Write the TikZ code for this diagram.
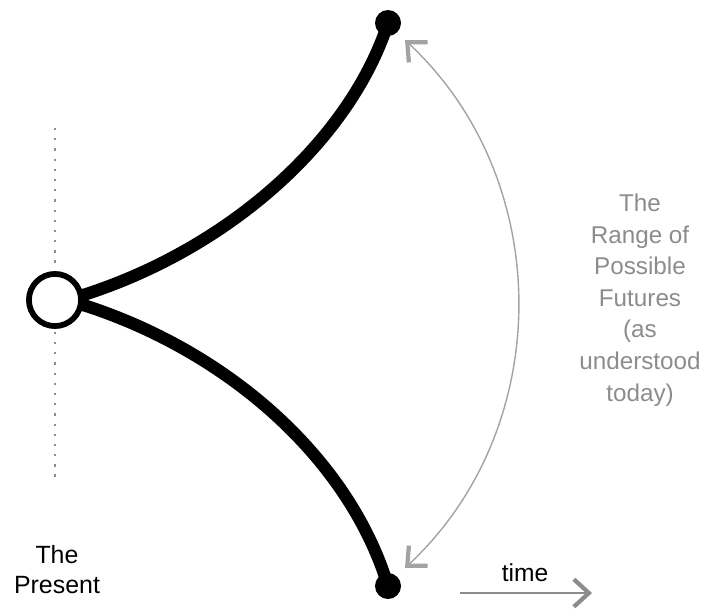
\documentclass[tikz,border=0pt]{standalone}
\usepackage{fontspec}
\setmainfont{Liberation Sans}
\usetikzlibrary{arrows.meta,positioning}
\definecolor{futuregray}{gray}{0.55}
\tikzset{
    path/.style={line width=7pt,line cap=round},
    endpoint/.style={circle,fill=black,inner sep=0pt,minimum size=0.52cm},
    ring/.style={circle,draw,line width=3.2pt,fill=white,minimum size=1.04cm},
    barb/.tip={Straight Barb[length=0.3cm,width=0.55cm,line width=2.4pt]}
}
\begin{document}
\begin{tikzpicture}[x=0.02cm,y=0.02cm]
        \useasboundingbox (0,0) rectangle (702,610);
        \draw[futuregray,line width=1.3pt,dash pattern=on 1.3pt off 4.5pt] (55,482) -- (55,132);
        \node[ring] (present) at (55,310) {};
        \node[endpoint] (top) at (388,587) {};
        \node[endpoint] (bottom) at (388,24) {};
        \draw[path] (present.10) .. controls (230,362) and (350,470) .. (top.center);
        \draw[path] (present.-10) .. controls (230,258) and (350,150) .. (bottom.center);
        \node[ring] at (present) {};
        \coordinate (high) at (405,570);
        \coordinate (low) at (405,42);
        \draw[futuregray!80,line width=0.8pt,barb-barb] (high) to[bend left=47] (low);
        \node[futuregray,align=center,font=\fontsize{13.8}{18}\selectfont] (range) at (640,310) {The\\Range of\\Possible\\Futures\\(as\\understood\\today)};
        \node[align=center,font=\fontsize{14.2}{17}\selectfont] (now) at (57,40) {The\\Present};
        \coordinate (tstart) at (460,17);
        \coordinate (tend) at (592,17);
        \draw[futuregray,line width=1.2pt,-barb] (tstart) -- (tend);
        \node[font=\fontsize{14}{16}\selectfont] (time) at (525,37) {time};
    \end{tikzpicture}
\end{document}
